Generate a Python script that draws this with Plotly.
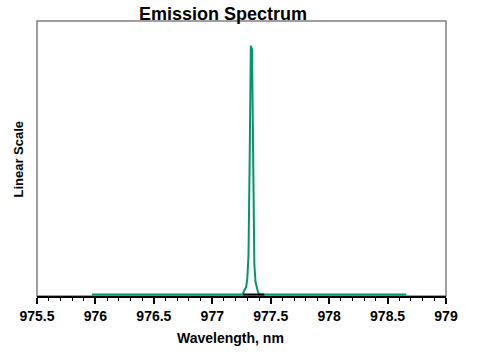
import plotly.graph_objects as go

# Emission spectrum data (wavelength in nm, intensity in arbitrary linear units)
wavelength = [975.97, 977.25, 977.26, 977.27, 977.28, 977.29, 977.30, 977.31, 977.32,
              977.33, 977.34, 977.35, 977.36, 977.37, 977.38, 977.39, 977.40, 978.66]
intensity = [0.0, 0.0, 0.0, 0.012, 0.02, 0.03, 0.065, 0.16, 0.55,
             1.0, 0.985, 0.5, 0.12, 0.05, 0.027, 0.012, 0.0, 0.0]

# Black reference segment at the base of the peak
ref_wavelength = [977.265, 977.445]
ref_intensity = [0.0, 0.0]

tick_vals = [975.5, 976, 976.5, 977, 977.5, 978, 978.5, 979]
tick_text = ["975.5", "976", "976.5", "977", "977.5", "978", "978.5", "979"]

fig = go.Figure()
fig.add_trace(go.Scatter(x=wavelength, y=intensity, mode="lines",
                         line=dict(color="#009670", width=2), showlegend=False))
fig.add_trace(go.Scatter(x=ref_wavelength, y=ref_intensity, mode="lines",
                         line=dict(color="black", width=2), showlegend=False))

fig.add_shape(type="rect", xref="paper", yref="paper", x0=0, y0=0, x1=1, y1=1,
              line=dict(color="#808080", width=1.5), layer="below")

font_family = "Liberation Sans, Arial, sans-serif"

fig.add_annotation(text="<b>Emission Spectrum</b>", xref="paper", yref="paper",
                   x=0.455, y=1, xanchor="center", yanchor="middle", yshift=7,
                   showarrow=False, font=dict(family=font_family, size=18, color="black"))
fig.add_annotation(text="<b>Wavelength, nm</b>", xref="paper", yref="paper",
                   x=0.472, y=0, xanchor="center", yanchor="middle", yshift=-42,
                   showarrow=False, font=dict(family=font_family, size=14, color="black"))
fig.add_annotation(text="<b>Linear Scale</b>", xref="paper", yref="paper",
                   x=-0.0452, y=0.498, xanchor="center", yanchor="middle", textangle=-90,
                   showarrow=False, font=dict(family=font_family, size=13, color="black"))

fig.update_layout(
    width=488, height=354,
    margin=dict(l=37, r=42, t=21, b=58),
    paper_bgcolor="white", plot_bgcolor="white",
    xaxis=dict(range=[975.5, 979], tickvals=tick_vals, ticktext=tick_text,
               showgrid=False, zeroline=False, showline=True, linecolor="black", linewidth=1.5,
               ticks="outside", ticklen=6, tickwidth=1.5, tickcolor="black",
               minor=dict(dtick=0.1, ticks="outside", ticklen=3, tickwidth=1, tickcolor="black",
                          showgrid=False),
               tickfont=dict(family=font_family, size=14, color="black", weight="bold"),
               layer="below traces"),
    yaxis=dict(range=[-0.006, 1.1], showticklabels=False, showgrid=False, zeroline=False,
               showline=False, ticks=""),
)

fig.write_html("out.html")
